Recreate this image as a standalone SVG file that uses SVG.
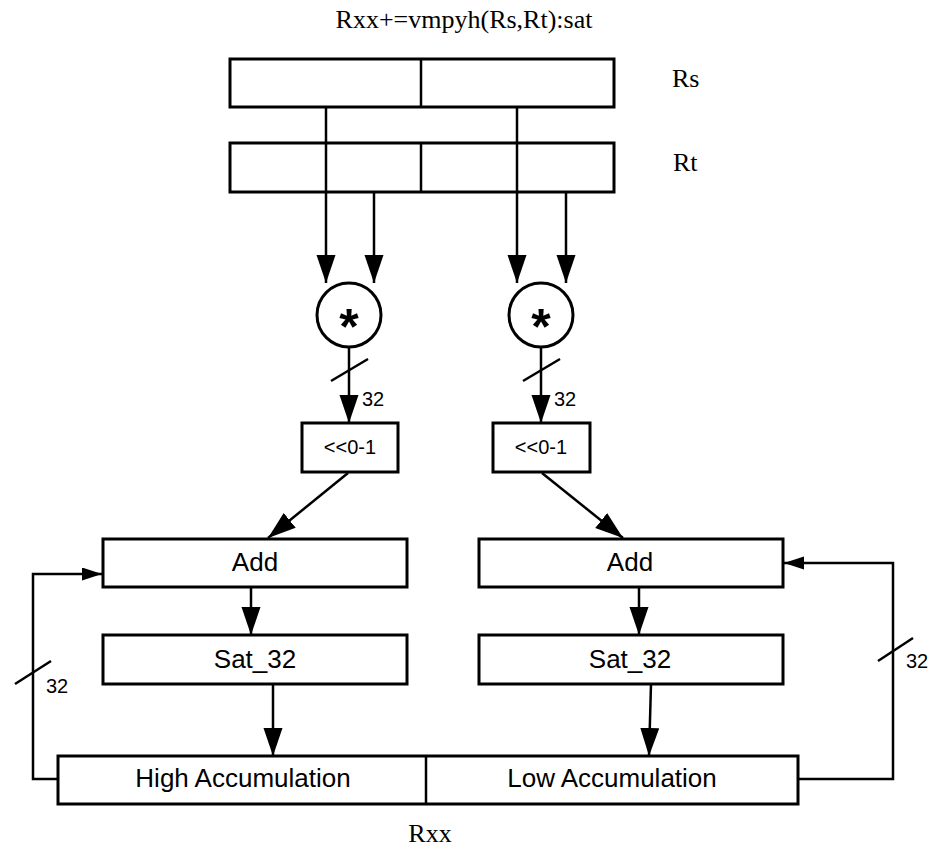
<svg xmlns="http://www.w3.org/2000/svg" width="929" height="848" viewBox="0 0 929 848">
<style>
.box{fill:#fff;stroke:#000;stroke-width:3}
.ln{fill:none;stroke:#000;stroke-width:2.5}
.sans{font-family:"Liberation Sans",Arial,sans-serif;fill:#000}
.serif{font-family:"Liberation Serif","Times New Roman",serif;fill:#000;font-size:26px}
.lbl{font-size:26px;text-anchor:middle}
.num{font-size:20px}
.star{font-size:50px;font-weight:bold;text-anchor:middle}
</style>
<defs>
<marker id="ah" markerUnits="userSpaceOnUse" markerWidth="30" markerHeight="20" refX="28" refY="9.5" orient="auto">
<path d="M0,0 L28,9.5 L0,19 z" fill="#000"/>
</marker>
<marker id="as" markerUnits="userSpaceOnUse" markerWidth="22" markerHeight="14" refX="20" refY="6.5" orient="auto">
<path d="M0,0 L20,6.5 L0,13 z" fill="#000"/>
</marker>
</defs>
<rect width="929" height="848" fill="#fff"/>
<text class="serif" x="464" y="28" text-anchor="middle">Rxx+=vmpyh(Rs,Rt):sat</text>
<g id="Rs">
<rect class="box" x="230" y="59" width="384" height="48"/>
<line class="ln" x1="421" y1="59" x2="421" y2="107"/>
<text class="serif" x="672" y="87">Rs</text>
</g>
<g id="Rt">
<rect class="box" x="230" y="143" width="384" height="49"/>
<line class="ln" x1="326" y1="143" x2="326" y2="192"/>
<line class="ln" x1="421" y1="143" x2="421" y2="192"/>
<line class="ln" x1="517" y1="143" x2="517" y2="192"/>
<text class="serif" x="673" y="171">Rt</text>
</g>
<g id="mul1">
<circle class="box" cx="349" cy="315" r="32"/>
<text class="sans star" x="349" y="344">*</text>
</g>
<g id="mul2">
<circle class="box" cx="541" cy="315" r="32"/>
<text class="sans star" x="541" y="344">*</text>
</g>
<g id="shift1">
<rect class="box" x="302" y="423" width="96" height="49"/>
<text class="sans num" x="350" y="454" text-anchor="middle">&lt;&lt;0-1</text>
</g>
<g id="shift2">
<rect class="box" x="493" y="423" width="97" height="49"/>
<text class="sans num" x="541" y="454" text-anchor="middle">&lt;&lt;0-1</text>
</g>
<g id="add1">
<rect class="box" x="103" y="539" width="304" height="48"/>
<text class="sans lbl" x="255" y="571">Add</text>
</g>
<g id="add2">
<rect class="box" x="479" y="539" width="304" height="48"/>
<text class="sans lbl" x="630" y="571">Add</text>
</g>
<g id="sat1">
<rect class="box" x="103" y="635" width="304" height="49"/>
<text class="sans lbl" x="255" y="668">Sat_32</text>
</g>
<g id="sat2">
<rect class="box" x="479" y="635" width="304" height="49"/>
<text class="sans lbl" x="630" y="668">Sat_32</text>
</g>
<g id="acc">
<rect class="box" x="58" y="756" width="740" height="48"/>
<line class="ln" x1="426" y1="756" x2="426" y2="804"/>
<text class="sans lbl" x="243" y="787">High Accumulation</text>
<text class="sans lbl" x="612" y="787">Low Accumulation</text>
<text class="serif" x="430" y="842" text-anchor="middle">Rxx</text>
</g>
<g id="connectors">
<line class="ln" x1="326" y1="107" x2="326" y2="143"/>
<line class="ln" x1="517" y1="107" x2="517" y2="143"/>
<line class="ln" x1="326" y1="192" x2="326" y2="283" marker-end="url(#ah)"/>
<line class="ln" x1="374" y1="192" x2="374" y2="283" marker-end="url(#ah)"/>
<line class="ln" x1="517" y1="192" x2="517" y2="283" marker-end="url(#ah)"/>
<line class="ln" x1="566" y1="192" x2="566" y2="283" marker-end="url(#ah)"/>
<line class="ln" x1="349" y1="347" x2="349" y2="423" marker-end="url(#ah)"/>
<line class="ln" x1="541" y1="347" x2="541" y2="423" marker-end="url(#ah)"/>
<line class="ln" x1="331" y1="381" x2="368" y2="359"/>
<line class="ln" x1="523" y1="381" x2="560" y2="359"/>
<text class="sans num" x="362" y="406">32</text>
<text class="sans num" x="554" y="406">32</text>
<line class="ln" x1="348" y1="473" x2="268" y2="538" marker-end="url(#ah)"/>
<line class="ln" x1="542" y1="473" x2="623" y2="538" marker-end="url(#ah)"/>
<line class="ln" x1="251" y1="587" x2="251" y2="635" marker-end="url(#ah)"/>
<line class="ln" x1="639" y1="587" x2="639" y2="635" marker-end="url(#ah)"/>
<line class="ln" x1="273" y1="684" x2="273" y2="756" marker-end="url(#ah)"/>
<line class="ln" x1="651" y1="684" x2="649" y2="756" marker-end="url(#ah)"/>
<polyline class="ln" points="58,779 33,779 33,574 102,574" marker-end="url(#as)"/>
<polyline class="ln" points="798,779 893,779 893,563 784,563" marker-end="url(#as)"/>
<line class="ln" x1="15" y1="684" x2="51" y2="661"/>
<line class="ln" x1="878" y1="661" x2="913" y2="638"/>
<text class="sans num" x="46" y="693">32</text>
<text class="sans num" x="906" y="668">32</text>
</g>
</svg>
